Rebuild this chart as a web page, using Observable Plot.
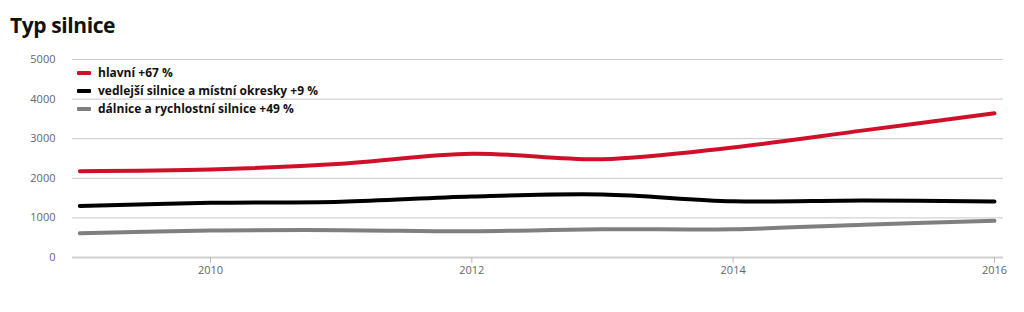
<!DOCTYPE html>
<html>
<head>
<meta charset="utf-8">
<script src="https://cdn.jsdelivr.net/npm/d3@7"></script>
<script src="https://cdn.jsdelivr.net/npm/@observablehq/plot@0.6"></script>
<style>
  html, body { margin: 0; padding: 0; background: #fff; }
  body { width: 1024px; height: 312px; position: relative; overflow: hidden; font-family: "Open Sans", sans-serif; }
  #title { position: absolute; left: 10px; top: 11px; font-size: 21px; font-weight: 700; color: #111; letter-spacing: -0.4px; }
  #chart { position: absolute; left: 0; top: 44px; }
  #legend { position: absolute; left: 77px; top: 64px; font-size: 12px; font-weight: 700; color: #111; line-height: 18px; }
  #legend .row { display: flex; align-items: center; }
  #legend .sw { width: 14px; height: 4px; margin-right: 7px; border-radius: 1px; }
</style>
</head>
<body>
<div id="title">Typ silnice</div>
<div id="chart"></div>
<div id="legend"></div>
<script>
const years = [2009, 2010, 2011, 2012, 2013, 2014, 2015, 2016];
const hlavni = [2180, 2220, 2370, 2620, 2480, 2780, 3210, 3640];
const vedlejsi = [1300, 1380, 1410, 1540, 1590, 1420, 1440, 1415];
const dalnice = [615, 680, 690, 665, 715, 715, 830, 925];
const seriesNames = ["hlavní +67 %", "vedlejší silnice a místní okresky +9 %", "dálnice a rychlostní silnice +49 %"];
const seriesColors = ["#d0102a", "#000000", "#7f7f7f"];
const yTicks = [0, 1000, 2000, 3000, 4000, 5000];
const xTicks = [2010, 2012, 2014, 2016];

const seriesValues = [hlavni, vedlejsi, dalnice];
const rows = [];
seriesValues.forEach((vals, i) => vals.forEach((v, j) => rows.push({year: years[j], value: v, series: seriesNames[i]})));

const chart = Plot.plot({
  width: 1024,
  height: 268,
  marginLeft: 72,
  marginRight: 21,
  marginTop: 15,
  marginBottom: 55,
  style: {fontFamily: "Open Sans, sans-serif", fontSize: "11px", color: "#666", background: "#fff"},
  x: {domain: [2008.944, 2016.069], label: null},
  y: {domain: [0, 5000], label: null},
  color: {domain: seriesNames, range: seriesColors},
  marks: [
    Plot.ruleY(yTicks, {stroke: "#c8c8c8", strokeWidth: 1}),
    Plot.ruleY([0], {stroke: "#d0d0d0", strokeWidth: 2}),
    Plot.axisX({ticks: xTicks, tickFormat: d => String(d), stroke: "#bbb", tickSize: 6, tickPadding: 3, fill: "#666", label: null}),
    Plot.axisY({ticks: yTicks, tickFormat: d => String(d), tickSize: 0, tickPadding: 17, fill: "#666", label: null}),
    Plot.line(rows, {x: "year", y: "value", z: "series", stroke: "series", strokeWidth: 4, curve: "catmull-rom", strokeLinecap: "round"})
  ]
});
document.getElementById("chart").appendChild(chart);

const legend = document.getElementById("legend");
seriesNames.forEach((name, i) => {
  const row = document.createElement("div");
  row.className = "row";
  const sw = document.createElement("span");
  sw.className = "sw";
  sw.style.background = seriesColors[i];
  const t = document.createElement("span");
  t.textContent = name;
  row.appendChild(sw);
  row.appendChild(t);
  legend.appendChild(row);
});
</script>
</body>
</html>
